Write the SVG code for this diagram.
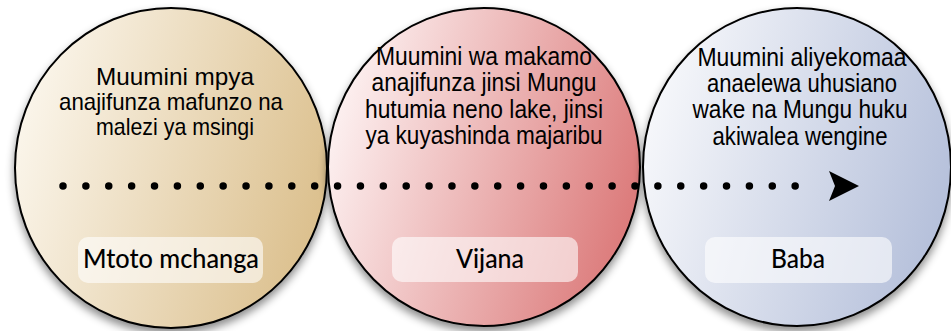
<svg xmlns="http://www.w3.org/2000/svg" width="951" height="331" viewBox="0 0 951 331">
<defs>
<linearGradient id="g1" x1="0" y1="0.35" x2="1" y2="0.65"><stop offset="0" stop-color="#fbf6ec"/><stop offset="1" stop-color="#dbbf8c"/></linearGradient>
<linearGradient id="g2" x1="0" y1="0.35" x2="1" y2="0.65"><stop offset="0" stop-color="#fdf2f2"/><stop offset="1" stop-color="#db7878"/></linearGradient>
<linearGradient id="g3" x1="0" y1="0.35" x2="1" y2="0.65"><stop offset="0" stop-color="#f7f8fb"/><stop offset="1" stop-color="#b4bfda"/></linearGradient>
<filter id="sh" x="-10%" y="-10%" width="120%" height="125%"><feDropShadow dx="0" dy="5" stdDeviation="4" flood-color="#000" flood-opacity="0.45"/></filter>
<style>
.c{stroke:#000;stroke-width:2}
.d{font-family:"Liberation Sans Narrow","Liberation Sans",Arial,sans-serif;font-size:25px;fill:#000;text-anchor:middle}
.d1{font-size:24px}
.box{fill:#fff;fill-opacity:0.6}
.l{font-family:Lato,"Open Sans",sans-serif;font-size:26px;font-weight:500;fill:#000;text-anchor:middle}
</style>
</defs>
<g id="node-mtoto">
<ellipse class="c" cx="171" cy="168" rx="156" ry="160" fill="url(#g1)" filter="url(#sh)"/>
<text class="d d1"><tspan x="175" y="84.5" textLength="158" lengthAdjust="spacingAndGlyphs">Muumini mpya</tspan><tspan x="171" y="109.5" textLength="224" lengthAdjust="spacingAndGlyphs">anajifunza mafunzo na</tspan><tspan x="175" y="134.5" textLength="158" lengthAdjust="spacingAndGlyphs">malezi ya msingi</tspan></text>
<rect class="box" x="78" y="237" width="185" height="46" rx="10"/>
<text class="l" x="171" y="268" textLength="176" lengthAdjust="spacingAndGlyphs">Mtoto mchanga</text>
</g>
<g id="node-vijana">
<ellipse class="c" cx="484" cy="167" rx="156" ry="159" fill="url(#g2)" filter="url(#sh)"/>
<text class="d"><tspan x="484" y="65" textLength="216" lengthAdjust="spacingAndGlyphs">Muumini wa makamo</tspan><tspan x="484" y="91" textLength="225" lengthAdjust="spacingAndGlyphs">anajifunza jinsi Mungu</tspan><tspan x="484" y="118" textLength="238" lengthAdjust="spacingAndGlyphs">hutumia neno lake, jinsi</tspan><tspan x="484" y="144" textLength="237" lengthAdjust="spacingAndGlyphs">ya kuyashinda majaribu</tspan></text>
<rect class="box" x="392" y="237" width="186" height="45" rx="10"/>
<text class="l" x="490" y="268" textLength="68" lengthAdjust="spacingAndGlyphs">Vijana</text>
</g>
<g id="node-baba">
<ellipse class="c" cx="797" cy="167" rx="154" ry="159" fill="url(#g3)" filter="url(#sh)"/>
<text class="d"><tspan x="802" y="66" textLength="209" lengthAdjust="spacingAndGlyphs">Muumini aliyekomaa</tspan><tspan x="802" y="92" textLength="190" lengthAdjust="spacingAndGlyphs">anaelewa uhusiano</tspan><tspan x="800" y="118" textLength="215" lengthAdjust="spacingAndGlyphs">wake na Mungu huku</tspan><tspan x="800" y="145" textLength="175" lengthAdjust="spacingAndGlyphs">akiwalea wengine</tspan></text>
<rect class="box" x="705" y="237" width="187" height="46" rx="10"/>
<text class="l" x="798" y="268" textLength="54" lengthAdjust="spacingAndGlyphs">Baba</text>
</g>
<g id="connectors">
<line x1="63" y1="186" x2="818" y2="186" stroke="#000" stroke-width="7.5" stroke-linecap="round" stroke-dasharray="0 22.88"/>
<polygon points="829,171 859,186 829,201 835,186" fill="#000"/>
</g>
</svg>
